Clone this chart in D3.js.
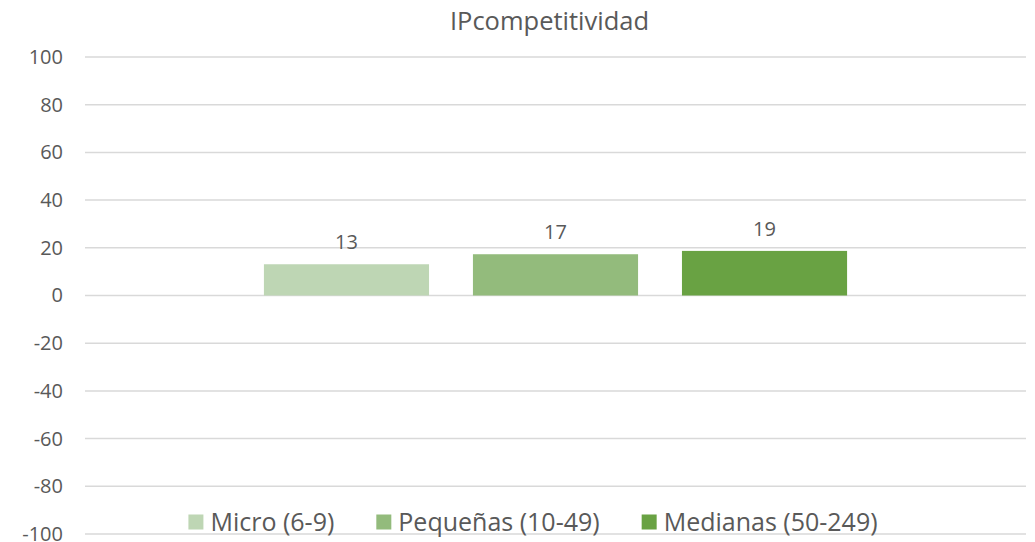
<!DOCTYPE html>
<html>
<head>
	<meta charset="utf-8">
	<title>IPcompetitividad</title>
	<script src="https://d3js.org/d3.v7.min.js" charset="utf-8"></script>
	<style>
		body { margin: 0; background: #fff; }
		text { font-family: "Open Sans", "Noto Sans", sans-serif; fill: #595959; }
	</style>
</head>
<body>
	<svg width="1035" height="542"></svg>
	<script>
		var series = ["Micro (6-9)", "Pequeñas (10-49)", "Medianas (50-249)"];
		var values = [13.1, 17.3, 18.7];
		var yTicks = [-100, -80, -60, -40, -20, 0, 20, 40, 60, 80, 100];
		var colors = ["#bed6b4", "#93bb7c", "#69a243"];
		var title = "IPcompetitividad";

		const plotLeft = 85, plotRight = 1026, plotTop = 57, plotBottom = 534;

		var svg = d3.select('svg');

		const yScale = d3.scaleLinear()
			.domain([-100, 100])
			.range([plotBottom, plotTop]);

		const xScale = d3.scaleBand()
			.domain(series)
			.range([plotLeft, plotRight])
			.paddingInner(0.21)
			.paddingOuter(0.856);

		// gridlines
		svg.append('g')
			.selectAll('line')
			.data(yTicks)
			.enter()
			.append('line')
			.attr('x1', plotLeft)
			.attr('x2', plotRight)
			.attr('y1', d => yScale(d))
			.attr('y2', d => yScale(d))
			.attr('stroke', '#d9d9d9')
			.attr('stroke-width', 1.5);

		// y axis labels (plain hyphen for negatives)
		const yAxis = svg.append('g')
			.attr('transform', `translate(${plotLeft - 22}, 0)`)
			.call(d3.axisLeft(yScale).tickValues(yTicks).tickSize(0).tickPadding(0)
				.tickFormat(d => String(d)));
		yAxis.select('.domain').remove();
		yAxis.selectAll('text')
			.attr('fill', '#595959')
			.style('font-family', '"Open Sans", sans-serif')
			.style('font-size', '20px');

		// bars
		svg.append('g')
			.selectAll('rect')
			.data(values)
			.enter()
			.append('rect')
			.attr('x', (d, i) => xScale(series[i]))
			.attr('y', d => yScale(d))
			.attr('width', xScale.bandwidth())
			.attr('height', d => yScale(0) - yScale(d))
			.attr('fill', (d, i) => colors[i]);

		// data labels
		svg.append('g')
			.selectAll('text')
			.data(values)
			.enter()
			.append('text')
			.attr('x', (d, i) => xScale(series[i]) + xScale.bandwidth() / 2)
			.attr('y', d => yScale(d) - 15)
			.attr('text-anchor', 'middle')
			.style('font-size', '20px')
			.text(d => Math.round(d));

		// title
		svg.append('text')
			.attr('x', (plotLeft + plotRight) / 2 - 6)
			.attr('y', 30)
			.attr('text-anchor', 'middle')
			.style('font-size', '25.5px')
			.text(title);

		// legend
		const legend = svg.append('g');
		const items = legend.selectAll('g')
			.data(series)
			.enter()
			.append('g');
		items.append('rect')
			.attr('width', 15)
			.attr('height', 15)
			.attr('y', 514.5)
			.attr('fill', (d, i) => colors[i]);
		items.append('text')
			.attr('y', 531)
			.style('font-size', '25px')
			.text(d => d);

		var x = 0;
		var positions = [];
		items.each(function(d) {
			var w = d3.select(this).select('text').node().getComputedTextLength();
			positions.push(x);
			x += 15 + 7 + w + 42;
		});
		var total = x - 42;
		var start = 533 - total / 2;
		items.each(function(d, i) {
			d3.select(this).select('rect').attr('x', start + positions[i]);
			d3.select(this).select('text').attr('x', start + positions[i] + 22);
		});
	</script>
</body>
</html>
